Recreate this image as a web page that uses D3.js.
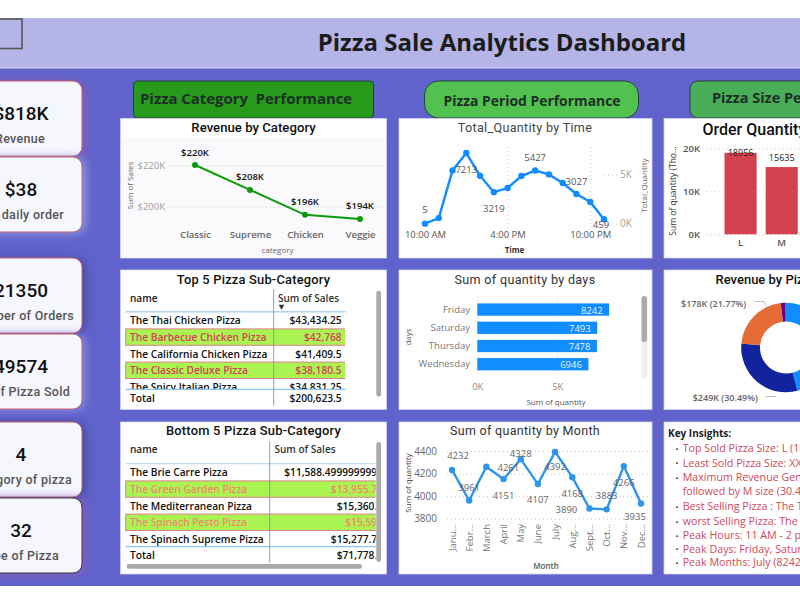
<!DOCTYPE html>
<html><head><meta charset="utf-8">
<script src="https://cdn.jsdelivr.net/npm/d3@7/dist/d3.min.js"></script>
<style>html,body{margin:0;padding:0;background:#fff;overflow:hidden}svg{display:block}text{white-space:pre}
.ax .domain{display:none}.grid line{stroke:#c9c9d2;stroke-dasharray:1 3}.grid text{display:none}.grid .domain{display:none}</style>
</head><body><svg id="c" width="800" height="600"></svg>
<script>
const kpiValues=["$818K","$38","21350","49574","4","32"];
const kpiLabels=["Total Revenue","Avg daily order","Number of Orders","Number of Pizza Sold","Category of pizza","Type of Pizza"];
const categories=["Classic","Supreme","Chicken","Veggie"];
const categoryRevenue=[220,208,196,194];
const hours=[10,11,12,13,14,15,16,17,18,19,20,21,22,23];
const hourQuantity=[5,570,5440,7213,4890,3219,3640,4860,5427,5030,4150,3027,2210,459];
const hourLabelShown=[1,0,0,1,0,1,0,0,1,0,0,1,0,1];
const sizes=["L","M"];
const sizeQuantity=[18956,15635];
const days=["Friday","Saturday","Thursday","Wednesday"];
const dayQuantity=[8242,7493,7478,6946];
const sliceSizes=["L","M","S","XL","XXL"];
const sliceRevenue=[375,249,178,14,1];
const slicePercent=[45.89,30.49,21.77,1.72,0.12];
const months=["Janu...","Febr...","March","April","May","June","July","Aug...","Sept...","Oct...","Nov...","Dec..."];
const monthQuantity=[4232,3961,4261,4151,4328,4107,4392,4168,3890,3883,4266,3935];
const topNames=["The Thai Chicken Pizza","The Barbecue Chicken Pizza","The California Chicken Pizza","The Classic Deluxe Pizza","The Spicy Italian Pizza"];
const topSales=["$43,434.25","$42,768","$41,409.5","$38,180.5","$34,831.25"];
const topTotal="$200,623.5";
const bottomNames=["The Brie Carre Pizza","The Green Garden Pizza","The Mediterranean Pizza","The Spinach Pesto Pizza","The Spinach Supreme Pizza"];
const bottomSales=["$11,588.4999999999","$13,955.75","$15,360.5","$15,596","$15,277.75"];
const bottomTotal="$71,778.5";
const insights=["Top Sold Pizza Size: L (18956)","Least Sold Pizza Size: XXL (28)","Maximum Revenue Generated by L size (45.89%),","followed by M size (30.49%)","Best Selling Pizza : The Thai Chicken Pizza","worst Selling Pizza: The Brie Carre Pizza","Peak Hours: 11 AM - 2 pm","Peak Days: Friday, Saturday, Thursday","Peak Months: July (8242), May"];

const hourOffsets=[[0,-14],null,null,[0,16],null,[0,16],null,null,[0,-13],null,null,[0,-13],null,[-3,5]];
const monthOffsets=[[6,-14],[0,-13],[22,1],[0,16],[0,-6],[0,15],[0,15],[0,16],[-23,1],[0,-14],[0,16],[-6,13]];
const kpiBoxes=[[81,75],[157,75],[258,75],[334,75],[422,75],[498,75]];
const kpiGlow=["#8c5cb4","#9a9ce0","#474a9e","#8a8cdc","#474a9e","#8c5cb4"];
const kpiTextEnd=[45,64,74,70,72,59];

const DIN="Roboto, 'Noto Sans', sans-serif", SEG="'Open Sans','Noto Sans',sans-serif";
const svg=d3.select("#c");
function txt(g,x,y,s,o={}){
  const t=g.append("text").attr("x",x).attr("y",y).attr("dominant-baseline","central")
   .attr("text-anchor",o.a||"middle").attr("font-family",o.f||SEG).attr("font-size",o.s||10)
   .attr("font-weight",o.w||400).attr("fill",o.c||"#666").text(s);
  if(o.ls)t.attr("letter-spacing",o.ls);
  return t;
}
function vtxt(g,x,y,s,o={}){
  const t=txt(g,0,0,s,o).attr("transform",`translate(${x},${y}) rotate(-90)`);return t;
}
// page bands
svg.append("rect").attr("x",0).attr("y",68).attr("width",800).attr("height",518).attr("fill","#5f63cb");
svg.append("rect").attr("x",0).attr("y",18).attr("width",800).attr("height",50).attr("fill","#b4b4e6");
svg.append("line").attr("x1",0).attr("x2",800).attr("y1",68).attr("y2",68).attr("stroke","#dcdcf2");
svg.append("rect").attr("x",-5).attr("y",19).attr("width",27).attr("height",29.5).attr("fill","none").attr("stroke","#555").attr("stroke-width",1.6);
txt(svg,502,41,"Pizza Sale Analytics Dashboard",{s:24,w:700,c:"#1c1c1c"});

// KPI cards
kpiBoxes.forEach((b,i)=>{
  svg.append("rect").attr("x",-20).attr("y",b[0]).attr("width",102).attr("height",b[1]).attr("rx",9)
   .attr("fill","#f6f6fd").attr("stroke",i==5?"#3a3a4a":"#c95c6e").attr("stroke-width",1)
   .style("filter",`drop-shadow(3px 1px 5px ${kpiGlow[i]})`);
  txt(svg,21,b[0]+32,kpiValues[i],{f:DIN,s:19,w:500,c:"#111"});
  txt(svg,kpiTextEnd[i],b[0]+57,kpiLabels[i],{f:DIN,s:12.5,w:500,c:"#555",a:"end",ls:.3});
});

// section headers
function header(x,w,r,fill,label,tx,ty,a,s){
  svg.append("rect").attr("x",x).attr("y",81).attr("width",w).attr("height",37).attr("rx",r).attr("fill",fill).attr("stroke","#26413a").attr("stroke-width",1);
  txt(svg,tx,ty,label,{s,w:700,c:"#1d2f26",a});
}
header(133.5,240,4,"#279a1c","Pizza Category  Performance",140,97.5,"start",14.9);
header(424.5,214,14,"#52c150","Pizza Period Performance",532,100.5,"middle",13.9);
header(690,140,8,"#4aad58","Pizza Size Performance",712,97.5,"start",14.5);

// panels
function panel(x,y,w,h){
  svg.append("rect").attr("x",x).attr("y",y).attr("width",w).attr("height",h).attr("fill","#fff").attr("stroke","#d4d4ee").attr("stroke-width",.8);
  return svg.append("g");
}
const TF=DIN;
// --- Revenue by Category
{
  const g=panel(120.5,118.5,266,139.5);
  g.append("rect").attr("x",121).attr("y",138).attr("width",265).attr("height",119.5).attr("fill","#fafafc");
  txt(g,253.5,127.5,"Revenue by Category",{f:TF,s:13.2,w:500,c:"#111"});
  const x=d3.scalePoint().domain(categories).range([195,360]);
  const y=d3.scaleLinear().domain([200,220]).range([206.5,165]);
  g.append("g").attr("class","grid").attr("transform","translate(383,0)").call(d3.axisLeft(y).tickValues([200,220]).tickSize(213));
  const ax=g.append("g").attr("class","ax").attr("transform","translate(165,0)").call(d3.axisLeft(y).tickValues([200,220]).tickSize(0).tickPadding(0).tickFormat(d=>`$${d}K`));
  ax.selectAll("text").attr("font-family",SEG).attr("font-size",9.5).attr("fill","#a0a0a0");
  const bx=g.append("g").attr("class","ax").attr("transform","translate(0,231)").call(d3.axisBottom(x).tickSize(0).tickPadding(0));
  bx.selectAll("text").attr("font-family",SEG).attr("font-size",9.5).attr("font-weight",600).attr("fill","#666");
  g.append("path").datum(categoryRevenue).attr("fill","none").attr("stroke","#0b9a0b").attr("stroke-width",2)
   .attr("d",d3.line().x((d,i)=>x(categories[i])).y(d=>y(d)));
  g.selectAll("circle").data(categoryRevenue).join("circle").attr("cx",(d,i)=>x(categories[i])).attr("cy",d=>y(d)).attr("r",3).attr("fill","#0b9a0b");
  categoryRevenue.forEach((d,i)=>txt(g,x(categories[i]),y(d)-13,`$${d}K`,{s:9.5,w:600,c:"#111"}));
  txt(g,277.5,249,"category",{s:8,c:"#666"});
  vtxt(g,129,185.5,"Sum of Sales",{s:8,c:"#666"});
}
// --- Total quantity by time
{
  const g=panel(399,118.5,253,139.5);
  txt(g,525,127.5,"Total_Quantity by Time",{f:TF,s:12.6,c:"#444",ls:.3});
  const x=d3.scaleLinear().domain([10,23]).range([425,604]);
  const y=d3.scaleLinear().domain([0,5000]).range([223.7,174.7]);
  g.append("g").attr("class","grid").attr("transform","translate(617,0)").call(d3.axisLeft(y).tickValues([0,5000]).tickSize(15));
  g.append("g").attr("class","grid").attr("transform","translate(0,228)").call(d3.axisTop(x).tickValues([16,22]).tickSize(83));
  const ay=g.append("g").attr("class","ax").attr("transform","translate(620,0)").call(d3.axisRight(y).tickValues([0,5000]).tickSize(0).tickPadding(0).tickFormat(d=>d/1000+"K"));
  ay.selectAll("text").attr("font-family",SEG).attr("font-size",10).attr("fill","#a0a0a0");
  const fmt=d=>(d>12?d-12:d)+":00 "+(d>=12?"PM":"AM");
  const bx=g.append("g").attr("class","ax").attr("transform","translate(0,231)").call(d3.axisBottom(x).tickValues([10,16,22]).tickSize(0).tickPadding(0).tickFormat(fmt));
  bx.selectAll("text").attr("font-family",SEG).attr("font-size",9.5).attr("font-weight",500).attr("fill","#555");
  g.append("path").datum(hourQuantity).attr("fill","none").attr("stroke","#118dff").attr("stroke-width",2.4)
   .attr("d",d3.line().x((d,i)=>x(hours[i])).y(d=>y(d)));
  g.selectAll("circle").data(hourQuantity).join("circle").attr("cx",(d,i)=>x(hours[i])).attr("cy",d=>y(d)).attr("r",3.2).attr("fill","#118dff");
  hourQuantity.forEach((d,i)=>{if(hourLabelShown[i]){const o=hourOffsets[i];txt(g,x(hours[i])+o[0],y(d)+o[1],d,{s:9.5,w:500,c:"#555"});}});
  txt(g,514.5,249,"Time",{s:8,w:700,c:"#333"});
  vtxt(g,643,185.5,"Total_Quantity",{s:8,c:"#666"});
}
// --- Order quantity
{
  const g=panel(664,118.5,160,139.5);
  txt(g,702.5,129,"Order Quantity by Size",{f:TF,s:16,w:500,c:"#111",a:"start"});
  const x=d3.scaleBand().domain(sizes).range([720,802.3]).paddingInner(.22).paddingOuter(.11);
  const y=d3.scaleLinear().domain([0,20000]).range([234.3,148.3]);
  g.append("g").attr("class","grid").attr("transform","translate(800,0)").call(d3.axisLeft(y).tickValues([0,10000,20000]).tickSize(93));
  const ay=g.append("g").attr("class","ax").attr("transform","translate(700,0)").call(d3.axisLeft(y).tickValues([0,10000,20000]).tickSize(0).tickPadding(0).tickFormat(d=>d/1000+"K"));
  ay.selectAll("text").attr("font-family",SEG).attr("font-size",9.5).attr("font-weight",600).attr("fill","#555");
  g.selectAll("rect.b").data(sizeQuantity).join("rect").attr("class","b").attr("x",(d,i)=>x(sizes[i])).attr("y",d=>y(d)).attr("width",x.bandwidth()).attr("height",d=>y(0)-y(d)).attr("fill","#d4414f");
  const bx=g.append("g").attr("class","ax").attr("transform","translate(0,239)").call(d3.axisBottom(x).tickSize(0).tickPadding(0));
  bx.selectAll("text").attr("font-family",SEG).attr("font-size",9.5).attr("font-weight",600).attr("fill","#555");
  sizeQuantity.forEach((d,i)=>txt(g,x(sizes[i])+x.bandwidth()/2,y(d)+(i?-10:0),d,{s:9,w:500,c:"#222"}));
  vtxt(g,672.5,191,"Sum of quantity (Tho...",{s:8.5,w:500,c:"#333"});
}
// --- tables
function table(o){
  const g=panel(o.x,o.y,266,o.h);
  txt(g,o.tx,o.ty,o.title,{f:TF,s:12.9,w:500,c:"#111",ls:.2});
  const clipId="clip"+o.y;
  svg.append("clipPath").attr("id",clipId).append("rect").attr("x",125).attr("y",o.clipTop).attr("width",o.clipW).attr("height",o.clipH);
  const body=g.append("g").attr("clip-path",`url(#${clipId})`);
  const y=d3.scalePoint().domain(d3.range(5)).range([o.r0,o.r4]);
  [1,3].forEach(i=>{
    body.append("rect").attr("x",125.7).attr("y",y(i)-8).attr("width",o.clipW).attr("height",16.4).attr("fill","#a9f450").attr("stroke","#d9808a").attr("stroke-width",1);
  });
  o.names.forEach((n,i)=>{
    const hl=i%2==1, c=hl?o.hl:"#111";
    txt(body,130,y(i),n,{s:10.2,w:600,c,a:"start"});
    txt(body,o.vx,y(i),o.sales[i],{s:10.2,w:600,c,a:"end"});
  });
  g.append("line").attr("x1",125.7).attr("x2",o.lineEnd).attr("y1",o.headLine).attr("y2",o.headLine).attr("stroke","#a8d4f2").attr("stroke-width",o.headW);
  g.append("line").attr("x1",125.7).attr("x2",o.lineEnd).attr("y1",o.totLine).attr("y2",o.totLine).attr("stroke","#6fb7ee").attr("stroke-width",1);
  g.append("line").attr("x1",o.col).attr("x2",o.col).attr("y1",o.colTop).attr("y2",o.colBot).attr("stroke","#5b9fd6").attr("stroke-width",.9);
  txt(g,130,o.hy,"name",{s:10,w:600,c:"#222",a:"start"});
  txt(g,o.hx,o.hy,"Sum of Sales",{s:10,w:600,c:"#333",a:"start"});
  txt(g,130,o.ry,"Total",{s:10.2,w:600,c:"#111",a:"start"});
  const tclip=o.totalClip?g.append("g").attr("clip-path",`url(#clipT${o.y})`):g;
  if(o.totalClip)svg.append("clipPath").attr("id",`clipT${o.y}`).append("rect").attr("x",125).attr("y",o.ry-10).attr("width",o.clipW).attr("height",20);
  txt(tclip,o.vx,o.ry,o.total,{s:10.2,w:600,c:"#111",a:"end"});
  g.append("rect").attr("x",376.3).attr("y",o.sbTop).attr("width",4.8).attr("height",o.sbH).attr("rx",2.4).attr("fill","#aaa");
  return g;
}
{
  const g=table({x:120.5,y:270,h:139.5,tx:253.5,ty:279,title:"Top 5 Pizza Sub-Category",names:topNames,sales:topSales,total:topTotal,
   clipTop:312,clipH:77,clipW:220,r0:320.3,r4:386.7,vx:341.7,hl:"#d6405a",lineEnd:345.7,headLine:311.7,headW:1.4,totLine:389.3,col:273.7,colTop:289,colBot:405.7,hy:297.5,hx:278,ry:397.7,sbTop:290.7,sbH:106});
  g.append("path").attr("d",d3.symbol(d3.symbolTriangle,14)()).attr("transform","translate(281.5,306.5) rotate(180)").attr("fill","#333");
}
{
  const g=table({x:120.5,y:422,h:152,tx:253.5,ty:430.5,title:"Bottom 5 Pizza Sub-Category",names:bottomNames,sales:bottomSales,total:bottomTotal,
   clipTop:464,clipH:82,clipW:250.7,r0:472.3,r4:538.7,vx:383,hl:"#ef8a6e",lineEnd:375.7,headLine:463.7,headW:.9,totLine:546.7,col:269.7,colTop:441,colBot:562.7,hy:449,hx:274.5,ry:555,sbTop:442,sbH:120,totalClip:true});
  g.append("rect").attr("x",126.7).attr("y",564).attr("width",235.3).attr("height",4.7).attr("rx",2.3).attr("fill","#aaa");
}
// --- days
{
  const g=panel(399,270,253,139.5);
  txt(g,525,279,"Sum of quantity by days",{f:TF,s:12.6,c:"#333",ls:.3});
  const x=d3.scaleLinear().domain([0,5000]).range([477.3,557.3]);
  const y=d3.scaleBand().domain(days).range([300.5,373.3]).paddingInner(.325).paddingOuter(.16);
  g.append("g").attr("class","grid").attr("transform","translate(0,297)").call(d3.axisBottom(x).tickValues([0,5000]).tickSize(81));
  g.selectAll("rect.b").data(dayQuantity).join("rect").attr("class","b").attr("x",x(0)).attr("y",(d,i)=>y(days[i])).attr("width",d=>x(d)-x(0)).attr("height",y.bandwidth()).attr("fill","#118dff");
  dayQuantity.forEach((d,i)=>txt(g,x(d)-6.5,y(days[i])+y.bandwidth()/2+.5,d,{s:9.5,c:"#e6f2ff",a:"end"}));
  const ay=g.append("g").attr("class","ax").attr("transform","translate(470,0)").call(d3.axisLeft(y).tickSize(0).tickPadding(0));
  ay.selectAll("text").attr("font-family",SEG).attr("font-size",9.5).attr("fill","#777");
  const bx=g.append("g").attr("class","ax").attr("transform","translate(0,383)").call(d3.axisBottom(x).tickValues([0,5000]).tickSize(0).tickPadding(0).tickFormat(d=>d/1000+"K"));
  bx.selectAll("text").attr("font-family",SEG).attr("font-size",9.5).attr("fill","#888");
  txt(g,556,401,"Sum of quantity",{s:8,c:"#555"});
  vtxt(g,407,337,"days",{s:8,c:"#555"});
  g.append("rect").attr("x",641.5).attr("y",296).attr("width",6).attr("height",82.5).attr("rx",3).attr("fill","#eee");
  g.append("rect").attr("x",641.5).attr("y",296).attr("width",5.5).attr("height",46).attr("rx",2.7).attr("fill","#aaa");
}
// --- donut
{
  const g=panel(664,270,160,139.5);
  txt(g,715.5,279,"Revenue by Pizza Size",{f:TF,s:13,w:500,c:"#111",a:"start"});
  const colors=d3.scaleOrdinal().domain(sliceSizes).range(["#118dff","#12239e","#e66c37","#6b007b","#e044a7"]);
  const pie=d3.pie().sort(null)(slicePercent);
  const arc=d3.arc().innerRadius(26).outerRadius(44.8);
  g.append("g").attr("transform","translate(786,347.5)").selectAll("path").data(pie).join("path").attr("d",arc).attr("fill",(d,i)=>colors(sliceSizes[i]));
  txt(g,681,303,`$${sliceRevenue[2]}K (${slicePercent[2]}%)`,{s:9,w:600,c:"#666",a:"start"});
  txt(g,692.7,397,`$${sliceRevenue[1]}K (${slicePercent[1]}%)`,{s:9,w:600,c:"#666",a:"start"});
  g.append("path").attr("d","M755,301.5H764L766,306").attr("fill","none").attr("stroke","#aaa").attr("stroke-width",.8);
  g.append("path").attr("d","M766,396.5H776").attr("fill","none").attr("stroke","#aaa").attr("stroke-width",.8);
}
// --- month
{
  const g=panel(399,422,253,152);
  txt(g,525,430.5,"Sum of quantity by Month",{f:TF,s:12.5,c:"#333",ls:.3});
  const x=d3.scalePoint().domain(months).range([452,641]);
  const y=d3.scaleLinear().domain([3800,4400]).range([518.7,451]);
  const tv=[3800,4000,4200,4400];
  g.append("g").attr("class","grid").attr("transform","translate(648,0)").call(d3.axisLeft(y).tickValues(tv).tickSize(203));
  const ay=g.append("g").attr("class","ax").attr("transform","translate(437,0)").call(d3.axisLeft(y).tickValues(tv).tickSize(0).tickPadding(0).tickFormat(d3.format("d")));
  ay.selectAll("text").attr("font-family",SEG).attr("font-size",10).attr("fill","#666");
  const bx=g.append("g").attr("class","ax").attr("transform","translate(0,524)").call(d3.axisBottom(x).tickSize(0).tickPadding(0));
  bx.selectAll("text").attr("font-family",SEG).attr("font-size",9.5).attr("fill","#777").attr("text-anchor","end").attr("dy",".32em").attr("y",0).attr("transform","rotate(-90)");
  g.append("path").datum(monthQuantity).attr("fill","none").attr("stroke","#2f95ea").attr("stroke-width",2.4)
   .attr("d",d3.line().x((d,i)=>x(months[i])).y(d=>y(d)));
  g.selectAll("circle").data(monthQuantity).join("circle").attr("cx",(d,i)=>x(months[i])).attr("cy",d=>y(d)).attr("r",3.2).attr("fill","#2f95ea");
  monthQuantity.forEach((d,i)=>{const o=monthOffsets[i];txt(g,x(months[i])+o[0],y(d)+o[1],d,{s:9.5,c:"#666"});});
  txt(g,546,565,"Month",{s:8,w:600,c:"#555"});
  vtxt(g,407,483,"Sum of quantity",{s:8,c:"#444"});
}
// --- insights
{
  const g=panel(664,422,160,152);
  txt(g,668,433,"Key Insights:",{s:10,w:700,c:"#222",a:"start"});
  const ys=[448.3,462.7,477,491,506,521.3,535.3,548.7,562];
  insights.forEach((s,i)=>{
    if(i!=3)txt(g,677,ys[i],"•",{s:8,c:"#333"});
    txt(g,682.7,ys[i],s,{s:10.7,c:"#cd4a5c",a:"start"});
  });
}
</script></body></html>
